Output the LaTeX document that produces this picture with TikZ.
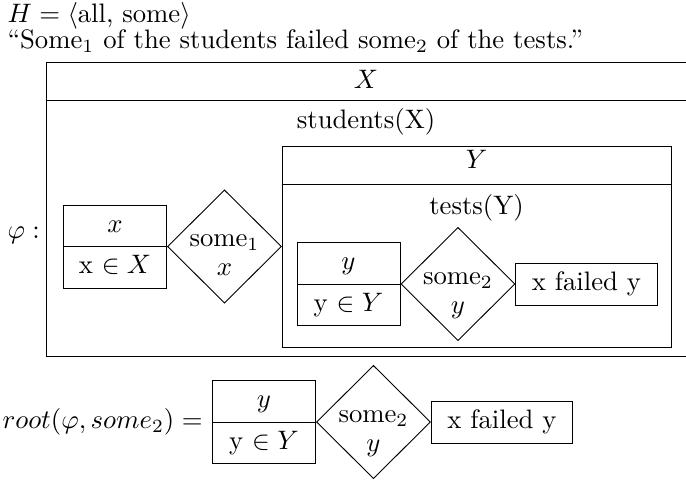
\documentclass[tikz,border=0pt]{standalone}
\usepackage{tikz}
\usetikzlibrary{shapes.geometric,shapes.multipart,positioning}
\tikzset{
  drsline/.style={draw=black,line width=0.35pt},
  drslab/.style={font=\normalsize,inner sep=0pt,anchor=base},
  varbox/.style={rectangle split,rectangle split parts=2,draw=black,line width=0.35pt,
      minimum width=38.6pt,inner ysep=1.6pt,inner xsep=2pt},
  quantbox/.style={diamond,draw=black,line width=0.35pt,minimum width=42.7pt,
      minimum height=42.4pt,inner sep=0pt},
  predbox/.style={draw=black,line width=0.35pt,minimum height=15.7pt,inner xsep=6pt,
      inner ysep=0pt},
}
\newcommand{\drsvar}[4]{\node[varbox,#2] (#1) {\strut$#3$\nodepart{two}\strut #4};}
\newcommand{\drsquant}[4]{%
  \node[quantbox,#2] (#1) {};
  \node[drslab] (#1q) at (#1.center) {#3};
  \node[drslab] (#1v) at ([yshift=-10.9pt]#1.center) {$#4$};}
\newcommand{\drsuniv}[6]{%
  \draw[drsline] (#2,#3) rectangle (#4,#5);
  \draw[drsline] (#2,#6) -- (#4,#6);}

\begin{document}
\begin{tikzpicture}[x=0.3745pt,y=-0.3745pt]
  \useasboundingbox (0,0) rectangle (686,480);

  \node[drslab,anchor=base west] (hset) at (7,22.5) {$H = \langle\mbox{all, some}\rangle$};
  \node[drslab,anchor=base west] (sent) at (7,48)
    {``Some$_1$ of the students failed some$_2$ of the tests.''};

  \node[drslab,anchor=base west] (phi) at (7,238) {$\varphi:$};
  \drsuniv{ux}{46}{62}{686}{356}{100}
  \node[drslab] (uxh) at (366,88) {$X$};
  \node[drslab] (uxr) at (366,128) {students(X)};

  \drsvar{xv}{at={(115,246.5)}}{x}{x $\in X$}
  \drsquant{qa}{right=0pt of xv}{some$_1$}{x}

  \drsuniv{uy}{282}{146}{671}{347}{184}
  \node[drslab] (uyh) at (476.5,168) {$Y$};
  \node[drslab] (uyr) at (476.5,214) {tests(Y)};

  \drsvar{yv}{at={(348.5,284)}}{y}{y $\in Y$}
  \drsquant{qb}{right=0pt of yv}{some$_2$}{y}
  \node[predbox,right=0pt of qb] (pb) {x failed y};

  \drsvar{rv}{at={(264,422)}}{y}{y $\in Y$}
  \node[left=0pt of rv] (root) {$root(\varphi, some_2) =$};
  \drsquant{qc}{right=0pt of rv}{some$_2$}{y}
  \node[predbox,right=0pt of qc] (pc) {x failed y};
\end{tikzpicture}
\end{document}
